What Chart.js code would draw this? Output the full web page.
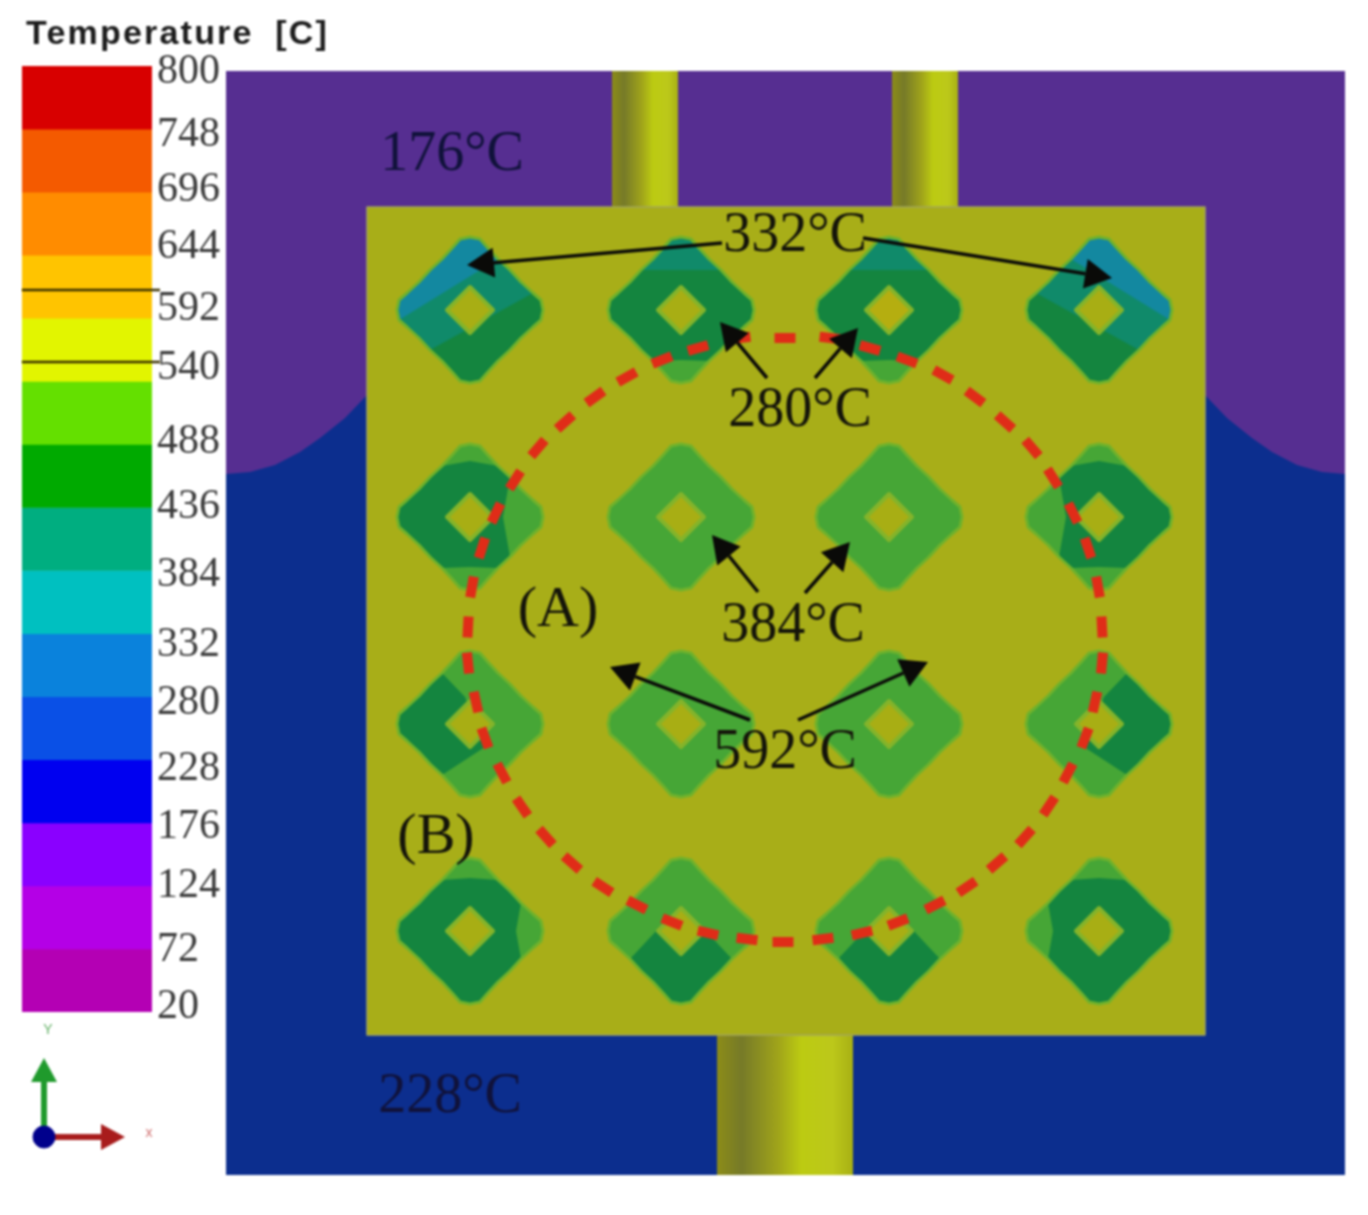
<!DOCTYPE html>
<html><head><meta charset="utf-8">
<script src="https://cdn.jsdelivr.net/npm/chart.js@4"></script>
<style>
html,body{margin:0;padding:0;background:#fff;width:1368px;height:1215px;overflow:hidden}
canvas{position:absolute;left:0;top:0;filter:blur(1px)}
</style></head><body>
<canvas id="legend" width="222" height="1215"></canvas>
<canvas id="field" width="1368" height="1215"></canvas>
<script>
// ---- colour legend ----
const legendEdges=[800,748,696,644,592,540,488,436,384,332,280,228,176,124,72,20];
const legendColors=['#d80000','#f45a00','#ff8c00','#ffc400','#e2f500','#64e000','#00aa00','#00ae80','#00c0c0','#0a82dc','#0a50e6','#0000f0','#8a00ff','#b400e6','#b400b4'];
const tickLabels=['800','748','696','644','592','540','488','436','384','332','280','228','176','124','72','20'];
const tickNudge=[6,6,-2,-8,-9,-13,-2,0,4,11,6,9,4,0,1,-5];
const legendRules=[[22,160,290],[22,160,362]];
// ---- field ----
const fluidTop=[[226,71],[1345,71],[1345,1175],[226,1175]];
const fluidBottom=[[226,474],[250,472],[275,465],[300,452],[320,438],[345,418],[367,395],[1205,395],[1227,418],[1252,438],[1272,452],[1297,465],[1322,472],[1345,474],[1345,1175],[226,1175]];
const plate=[[367,207],[1205,207],[1205,1035],[367,1035]];
const pipes=[[[612,71],[678,71],[678,207],[612,207]],[[892,71],[958,71],[958,207],[892,207]],[[717,1035],[853,1035],[853,1175],[717,1175]]];
const finColumns=[470,681,889,1099];
const finRows=[310,517,724,931];
// one quarter of a fin outline, clockwise from the top tip
const finQuarter=[[0,-73],[10,-71],[17,-63],[28,-51],[40,-40],[51,-28],[63,-17],[71,-10]];
const holeOutline=[[0,-23],[23,0],[0,23],[-23,0]];
const L='#46a636',D='#14853f',T='#108a6a',B='#1388a0';
// [colour, first outline index, last outline index, inner points]
const topCap=[L,29,3,[[0,-56]]], bottomCap=[L,13,19,[[0,50]]], rightCap=[L,5,11,[[46,0]]], leftCap=[L,21,27,[[-46,0]]];
const finBases=[
 [D,D,D,D],
 [D,L,L,D],
 [L,L,L,L],
 [D,L,L,D]];
const finLayers=[
 [[[T,20,6,[]],[B,23,3,[]]],[[T,28,4,[]],bottomCap],[[T,28,4,[]],bottomCap],[[T,26,12,[]],[B,29,9,[]]]],
 [[topCap,bottomCap,[L,4,12,[[33,0]]]],[],[],[topCap,bottomCap,[L,20,28,[[-33,0]]]]],
 [[[D,19,29,[[-5,-27],[15,23]]]],[],[],[[D,3,13,[[-15,23],[5,-27]]]]],
 [[[L,29,3,[[0,-53]]],rightCap],[[D,11,21,[[-23,-2],[0,23],[23,-2]]]],[[D,11,21,[[-23,-2],[0,23],[23,-2]]]],[[L,29,3,[[0,-53]]],leftCap]]];
// centres of the red dashes round the boundary between zones (A) and (B)
const dashX=[785,830,870,907,943,975,1005,1032,1053,1073,1088,1098,1102,1102,1095,1085,1068,1049,1025,997,967,935,898,862,823,783,747,708,672,637,603,572,546,522,502,485,476,468,468,472,482,496,515,538,565,595,627,662,698,740];
const dashY=[338,338,348,360,375,397,422,448,478,513,548,587,627,663,702,738,773,806,837,863,887,905,922,933,939,942,939,933,922,905,887,863,837,807,773,738,702,663,627,587,548,513,480,448,422,397,377,360,348,338];
const arrows=[[722,243,467,265],[863,238,1112,278],[767,378,720,322],[815,378,858,328],[758,592,712,535],[805,593,850,542],[750,720,610,667],[798,720,928,662]];
const noteTexts=['176°C','228°C','332°C','280°C','384°C','592°C','(A)','(B)'];
const noteX=[452,450,795,800,793,785,558,436];
const noteY=[155,1097,236,411,626,753,611,838];
const triadOrigin=[44,1137], triadY=[44,1058], triadX=[125,1137];

const NOTE_FONT='56px "Liberation Serif"';

function outlinePoint(i){
  const k=((i%32)+32)%32, q=Math.floor(k/8), p=finQuarter[k%8];
  let [x,y]=p;
  for(let n=0;n<q;n++){[x,y]=[-y,x];}
  return [x,y];
}
function ring(cx,cy,pts){return pts.map(p=>({x:cx+p[0],y:cy+p[1]}));}
function poly(points,color,extra){
  return Object.assign({type:'scatter',data:points,polygon:true,polyColor:color,pointRadius:0,showLine:false},extra||{});
}
function closed(list){return list.map(p=>({x:p[0],y:p[1]}));}

const paint=[];
paint.push(poly(closed(fluidTop),'#562e91'));
paint.push(poly(closed(fluidBottom),'#0c2e8e'));
const pipeStops=[[0,'#8c8c18'],[0.18,'#767a28'],[0.45,'#a0a41a'],[0.62,'#bccb12'],[0.85,'#bcc81a'],[1,'#a8b014']];
pipes.forEach(p=>paint.push(poly(closed(p),'#a8ae18',{gradient:pipeStops})));
paint.push(poly(closed(plate),'#a8ae18',{polyEdge:'#a3a65a',polyEdgeWidth:1.5}));
const allIdx=[...Array(32).keys()];
finRows.forEach((cy,r)=>finColumns.forEach((cx,c)=>{
  const outline=allIdx.map(outlinePoint);
  paint.push(poly(ring(cx,cy,outline),finBases[r][c]));
  finLayers[r][c].forEach(([col,a,b,inner])=>{
    const pts=[]; let end=b; if(end<a) end+=32;
    for(let i=a;i<=end;i++) pts.push(outlinePoint(i));
    inner.forEach(q=>pts.push(q));
    paint.push(poly(ring(cx,cy,pts),col));
  });
  paint.push(poly(ring(cx,cy,outline),'rgba(0,0,0,0)',{polyEdge:'#6fb22c',polyEdgeWidth:3}));
  paint.push(poly(ring(cx,cy,holeOutline),c===2&&r===0?'#b5ae10':'#a8ae14',{polyEdge:'#84b42a',polyEdgeWidth:4}));
}));
// dashes
const dashPts=dashX.map((x,i)=>({x,y:dashY[i]}));
paint.push({type:'scatter',data:dashPts,pointStyle:'line',pointRadius:10.5,pointBorderWidth:10,
  pointBorderColor:'#e02c18',pointBackgroundColor:'#e02c18',showLine:false,
  pointRotation:ctx=>{
    const n=dashPts.length,i=ctx.dataIndex;
    const a=dashPts[(i-1+n)%n],b=dashPts[(i+1)%n];
    return Math.atan2(b.y-a.y,b.x-a.x)*180/Math.PI;
  }});
// arrows
function headOf(x0,y0,x1,y1,len,half){
  const d=Math.hypot(x1-x0,y1-y0),ux=(x1-x0)/d,uy=(y1-y0)/d,bx=x1-ux*len,by=y1-uy*len;
  return [[x1,y1],[bx-uy*half,by+ux*half],[bx+uy*half,by-ux*half]];
}
function addArrow(x0,y0,x1,y1,color,w,len,half){
  const h=headOf(x0,y0,x1,y1,len,half);
  const base={x:(h[1][0]+h[2][0])/2,y:(h[1][1]+h[2][1])/2};
  paint.push({type:'scatter',data:[{x:x0,y:y0},base],showLine:true,borderColor:color,borderWidth:w,pointRadius:0,fill:false});
  paint.push(poly(closed(h),color));
}
arrows.forEach(a=>addArrow(a[0],a[1],a[2],a[3],'#0a0a08',3.5,27,15));
// triad
addArrow(triadOrigin[0],triadOrigin[1],triadY[0],triadY[1],'#1f9a2c',6,24,13);
addArrow(triadOrigin[0],triadOrigin[1],triadX[0],triadX[1],'#a81c1c',6,24,13);
paint.push({type:'scatter',data:[{x:triadOrigin[0],y:triadOrigin[1]}],pointRadius:11,pointBackgroundColor:'#00008c',pointBorderColor:'#00008c',showLine:false});
// legend rules live on the field canvas' coordinates too
legendRules.forEach(r=>paint.push({type:'scatter',data:[{x:r[0],y:r[2]},{x:r[1],y:r[2]}],showLine:true,borderColor:'#3a3000',borderWidth:2.5,pointRadius:0}));

const polygonPainter={id:'polygonPainter',
  beforeDatasetDraw(chart,args){
    const ds=chart.data.datasets[args.index]; if(!ds.polygon) return;
    const pts=chart.getDatasetMeta(args.index).data, c=chart.ctx;
    c.save(); c.beginPath();
    pts.forEach((p,i)=>i?c.lineTo(p.x,p.y):c.moveTo(p.x,p.y)); c.closePath();
    let fillStyle=ds.polyColor;
    if(ds.gradient){
      const xs=pts.map(p=>p.x),g=c.createLinearGradient(Math.min(...xs),0,Math.max(...xs),0);
      ds.gradient.forEach(s=>g.addColorStop(s[0],s[1])); fillStyle=g;
    }
    c.fillStyle=fillStyle; c.fill();
    if(ds.polyEdge){c.strokeStyle=ds.polyEdge;c.lineWidth=ds.polyEdgeWidth||1;c.lineJoin='round';c.stroke();}
    c.restore();
  }};
const notePainter={id:'notePainter',
  afterDatasetsDraw(chart){
    const c=chart.ctx,{x,y}=chart.scales;
    c.save(); c.textAlign='center'; c.textBaseline='middle';
    noteTexts.forEach((t,i)=>{
      c.font=t[0]==='('?'58px "Liberation Serif"':NOTE_FONT;
      c.fillStyle=(i<2)?'#10123a':'#14140a';
      c.fillText(t,x.getPixelForValue(noteX[i]),y.getPixelForValue(noteY[i]));
    });
    c.font='bold 34px "Liberation Sans"'; c.textAlign='left'; c.fillStyle='#1c1c1c';
    c.letterSpacing='2.2px'; c.wordSpacing='10px';
    c.fillText('Temperature [C]',x.getPixelForValue(26),y.getPixelForValue(35));
    c.letterSpacing='0px'; c.wordSpacing='0px';
    c.font='14px "Liberation Sans"'; c.textAlign='center';
    c.fillStyle='#5fae62'; c.fillText('Y',x.getPixelForValue(48),y.getPixelForValue(1030));
    c.fillStyle='#d07070'; c.fillText('x',x.getPixelForValue(149),y.getPixelForValue(1133));
    c.restore();
  }};

new Chart(document.getElementById('field'),{
  type:'scatter',
  data:{datasets:paint.slice().reverse()},
  plugins:[polygonPainter,notePainter],
  options:{responsive:false,animation:false,devicePixelRatio:1,
    layout:{padding:0,autoPadding:false},
    plugins:{legend:{display:false},tooltip:{enabled:false},title:{display:false}},
    scales:{x:{type:'linear',min:0,max:1368,display:false},y:{type:'linear',min:0,max:1215,reverse:true,display:false}}}
});

const bands=legendColors.map((col,i)=>({data:[[legendEdges[i+1],legendEdges[i]]],backgroundColor:col,borderWidth:0,barPercentage:1,categoryPercentage:1,grouped:false}));
const unitPx=(1012-66)/(800-20);
new Chart(document.getElementById('legend'),{
  type:'bar',
  data:{labels:['Temperature [C]'],datasets:bands},
  options:{responsive:false,animation:false,devicePixelRatio:1,
    layout:{padding:{left:22,top:66,bottom:203,right:0},autoPadding:false},
    plugins:{legend:{display:false},tooltip:{enabled:false}},
    scales:{
      x:{display:false,grid:{display:false},offset:true},
      y:{position:'right',min:20,max:800,grid:{display:false,drawTicks:false},border:{display:false},
        afterFit(s){s.width=70;},
        afterBuildTicks(s){s.ticks=tickLabels.map((t,i)=>({value:+t-tickNudge[i]/unitPx}));},
        afterTickToLabelConversion(s){s.ticks.forEach((t,i)=>{t.label=tickLabels[i];});},
        ticks:{autoSkip:false,padding:5,color:'#3a3a3a',font:{family:'"Liberation Serif"',size:42},align:'center'}
      }}}
});
</script>
</body></html>
